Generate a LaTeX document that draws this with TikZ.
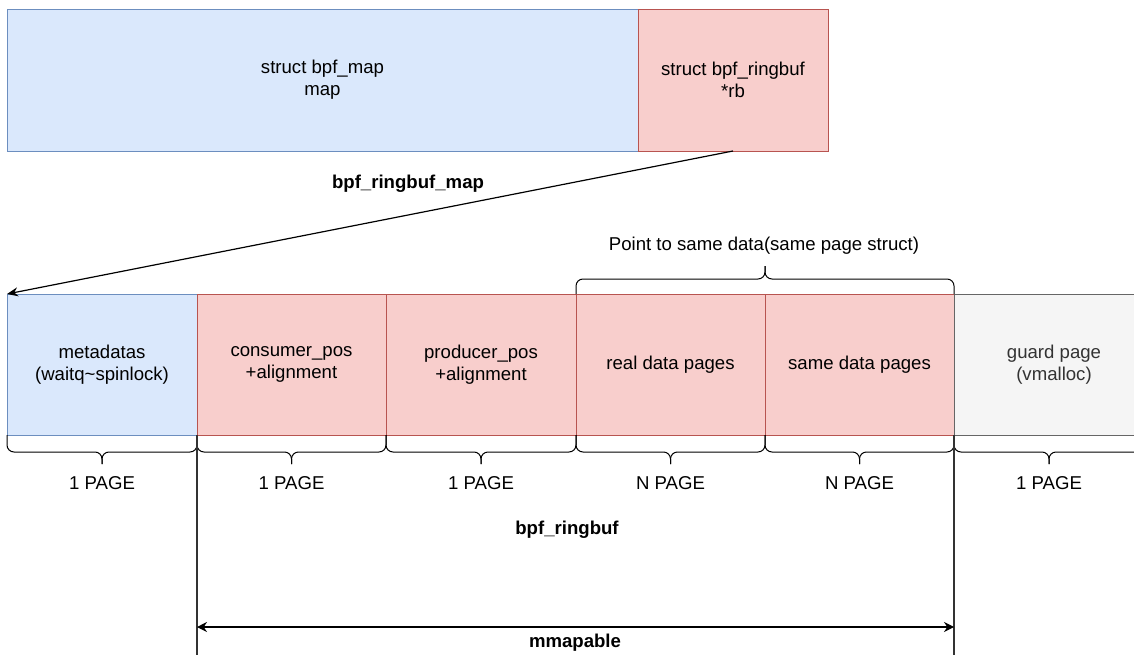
\documentclass[tikz,border=0pt]{standalone}
\usepackage{fontspec}
\setmainfont{Liberation Sans}
\usetikzlibrary{calc,arrows.meta}

\definecolor{bluefill}{HTML}{DAE8FC}
\definecolor{bluedraw}{HTML}{6C8EBF}
\definecolor{redfill}{HTML}{F8CECC}
\definecolor{reddraw}{HTML}{B85450}
\definecolor{grayfill}{HTML}{F5F5F5}
\definecolor{graydraw}{HTML}{666666}
\definecolor{graytext}{HTML}{333333}

% curly brace hanging below a node
\newcommand{\bracebelow}[1]{%
  \draw[bracestyle] (#1.south west) -- ++(0,17) -| ($(#1.south)+(0,29)$);
  \draw[bracestyle] (#1.south east) -- ++(0,17) -| ($(#1.south)+(0,29)$);
}

\begin{document}
\begin{tikzpicture}[x=1pt,y=-1pt,
  every node/.style={font=\fontsize{18.6}{22}\selectfont, align=center},
  cell/.style={rectangle, inner sep=0pt, outer sep=0pt, line width=0.9pt},
  bluecell/.style={cell, fill=bluefill, draw=bluedraw},
  redcell/.style={cell, fill=redfill, draw=reddraw},
  graycell/.style={cell, fill=grayfill, draw=graydraw},
  bracestyle/.style={draw=black, line width=1pt, rounded corners=7pt},
  boldlabel/.style={font=\fontsize{18.6}{22}\selectfont\bfseries},
  link/.style={draw=black, line width=1.2pt},
]
\useasboundingbox (0,0) rectangle (1134,655);
\clip (0,0) rectangle (1134,655);

% bpf_ringbuf_map
\node[bluecell, minimum width=631pt, minimum height=142pt] (map) at (322.5,80) {struct bpf\_map\\map};
\node[redcell, minimum width=190pt, minimum height=142pt] (rb) at (733,80) {struct bpf\_ringbuf\\*rb};

% ring buffer pages
\node[bluecell, minimum width=190pt, minimum height=141pt] (meta) at (102,364.5) {metadatas\\(waitq\textasciitilde spinlock)};
\node[redcell, minimum width=189pt, minimum height=141pt] (cons) at (291.5,364.5) {consumer\_pos\\+alignment};
\node[redcell, minimum width=190pt, minimum height=141pt] (prod) at (481,364.5) {producer\_pos\\+alignment};
\node[redcell, minimum width=189pt, minimum height=141pt] (real) at (670.5,364.5) {real data pages};
\node[redcell, minimum width=189pt, minimum height=141pt] (same) at (859.5,364.5) {same data pages};
\node[graycell, minimum width=200pt, minimum height=141pt, text=graytext] (guard) at (1054,364.5) {guard page\\(vmalloc)};

% pointer from the map to the ring buffer
\draw[link, -{Stealth[length=11pt,width=9pt]}] (rb.south) -- (meta.north west);
\node[boldlabel] (maplabel) at (408,184) {bpf\_ringbuf\_map};

% brace over the double-mapped data pages
\draw[bracestyle] (real.north west) -- ++(0,-15) -| ($(real.north east)+(0,-28)$);
\draw[bracestyle] (same.north east) -- ++(0,-15) -| ($(real.north east)+(0,-28)$);
\node (samelabel) at (764,246) {Point to same data(same page struct)};

% page counts
\bracebelow{meta}
\bracebelow{cons}
\bracebelow{prod}
\bracebelow{real}
\bracebelow{same}
\draw[bracestyle] (guard.south west) -- ++(0,17) -| ($(guard.south west)+(95,29)$);
\draw[bracestyle] (guard.south east) -- ++(0,17) -| ($(guard.south west)+(95,29)$);

\node (p1) at (102,483) {1 PAGE};
\node (p2) at (291.5,483) {1 PAGE};
\node (p3) at (481,483) {1 PAGE};
\node (p4) at (670.5,483) {N PAGE};
\node (p5) at (859.5,483) {N PAGE};
\node (p6) at (1049,483) {1 PAGE};

% extent of the ring buffer and its mmapable part
\coordinate (lbot) at (197,660);
\coordinate (rbot) at (954,660);
\draw[line width=1.2pt, draw=black!80] (cons.south west) -- (lbot);
\draw[line width=1.2pt, draw=black!80] (same.south east) -- (rbot);
\node[boldlabel] (rblabel) at (567,530) {bpf\_ringbuf};

\coordinate (ml) at (197,627);
\coordinate (mr) at (954,627);
\draw[link, {Stealth[length=10pt,width=10pt]}-{Stealth[length=10pt,width=10pt]}] (ml) -- (mr);
\node[boldlabel] (mmlabel) at (575,643) {mmapable};
\end{tikzpicture}
\end{document}
